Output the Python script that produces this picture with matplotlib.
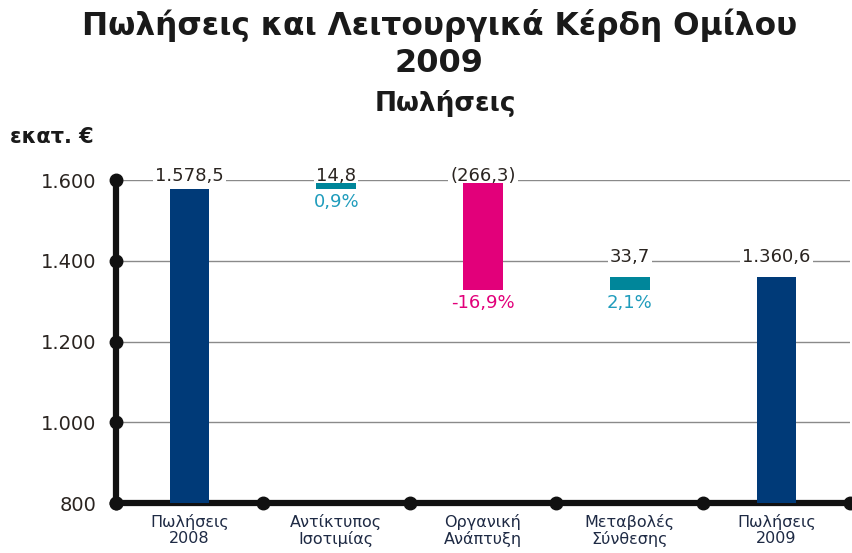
import numpy as np
import matplotlib.pyplot as plt

categories = ["Πωλήσεις\n2008", "Αντίκτυπος\nΙσοτιμίας", "Οργανική\nΑνάπτυξη",
              "Μεταβολές\nΣύνθεσης", "Πωλήσεις\n2009"]
values = [1578.5, 14.8, -266.3, 33.7, 1360.6]
is_total = [True, False, False, False, True]
pct_labels = ["", "0,9%", "-16,9%", "2,1%", ""]
yticks = [800, 1000, 1200, 1400, 1600]

navy = "#003a78"
teal = "#00869a"
teal_txt = "#1f9cbc"
pink = "#e2007a"
txt = "#2a2420"


def gr(v, dec=1):
    s = f"{abs(v):,.{dec}f}".replace(",", " ").replace(".", ",").replace(" ", ".")
    return s


fig = plt.figure(figsize=(8.53, 5.53), dpi=100)
ax = fig.add_axes([0.136, 0.0904, 0.8605, 0.5841])

base = 800
running = 0.0
x = np.arange(len(values))
for i, (v, tot) in enumerate(zip(values, is_total)):
    if tot:
        bottom, height, col = base, v - base, navy
        running = v
        top = v
    else:
        start = running
        running = running + v
        bottom, height = min(start, running), abs(v)
        col = teal if v > 0 else pink
        top = max(start, running)
    ax.bar(i, height, bottom=bottom, width=0.27, color=col, zorder=5.5)
    # value label sits on the grid line above the bar
    ly = np.ceil(top / 200) * 200
    lab = gr(v) if v >= 0 else f"({gr(v)})"
    ax.annotate(lab, (i, ly), xytext=(0, 3), textcoords="offset points",
                ha="center", va="center", fontsize=13, color=txt, zorder=5,
                bbox=dict(fc="white", ec="none", pad=1.5), annotation_clip=False)
    if pct_labels[i]:
        ax.annotate(pct_labels[i], (i, bottom), xytext=(0, -3), textcoords="offset points",
                    ha="center", va="top", fontsize=13,
                    color=teal_txt if v > 0 else pink, zorder=5)

ax.set_xlim(-0.5, len(values) - 0.5)
ax.set_ylim(800, 1600)
for t in yticks[1:]:
    ax.axhline(t, color="#8a8a8a", lw=1, zorder=1)

for s in ["top", "right"]:
    ax.spines[s].set_visible(False)
for s in ["left", "bottom"]:
    ax.spines[s].set_linewidth(4.5)
    ax.spines[s].set_color("#111111")
    ax.spines[s].set_zorder(4)

ax.plot([-0.5] * len(yticks), yticks, "o", color="#111111", ms=9, clip_on=False, zorder=6)
bounds = np.arange(len(values) + 1) - 0.5
ax.plot(bounds, [800] * len(bounds), "o", color="#111111", ms=9, clip_on=False, zorder=6)

ax.set_yticks(yticks)
ax.set_yticklabels([gr(t, 0) for t in yticks], fontsize=14, color=txt)
ax.set_xticks(x)
ax.set_xticklabels(categories, fontsize=11.5, color="#1e2a44", linespacing=1.1)
ax.tick_params(axis="y", length=0, pad=14)
ax.tick_params(axis="x", length=0, pad=8)

fig.text(0.515, 0.955, "Πωλήσεις και Λειτουργικά Κέρδη Ομίλου", ha="center", va="center",
         fontsize=22.5, fontweight="bold", color="#1a1a1a")
fig.text(0.515, 0.885, "2009", ha="center", va="center",
         fontsize=23, fontweight="bold", color="#1a1a1a")
fig.text(0.522, 0.812, "Πωλήσεις", ha="center", va="center",
         fontsize=19, fontweight="bold", color="#1a1a1a")
fig.text(0.012, 0.752, "εκατ. €", ha="left", va="center",
         fontsize=15, fontweight="bold", color="#1a1a1a")

fig.savefig("out.png", dpi=100)
